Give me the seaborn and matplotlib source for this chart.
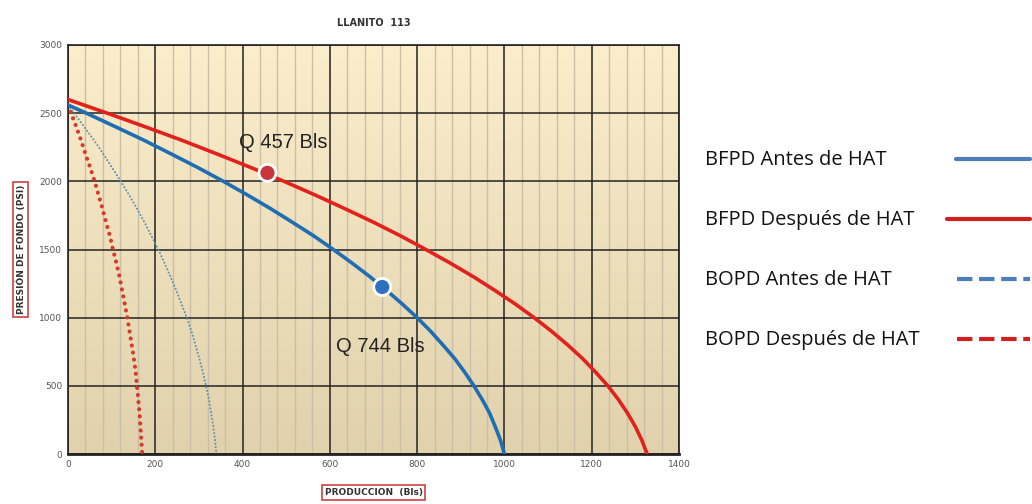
import numpy as np
import matplotlib
matplotlib.use("Agg")
import matplotlib.pyplot as plt
import seaborn as sns
import pandas as pd
from matplotlib.lines import Line2D
from matplotlib.ticker import MultipleLocator

# DATA
presion = [2560, 2500, 2400, 2300, 2200, 2100, 2000, 1900, 1800, 1700, 1600, 1500, 1400,
           1300, 1200, 1100, 1000, 900, 800, 700, 600, 500, 400, 300, 200, 100, 0]
bfpd_antes = [0, 42, 109, 175, 237, 298, 356, 411, 464, 514, 563, 608, 651,
              692, 730, 766, 800, 831, 859, 886, 909, 930, 949, 966, 979, 991, 1000]
bopd_antes = [0, 14, 37, 60, 81, 101, 121, 140, 158, 175, 191, 207, 221,
              235, 248, 260, 272, 283, 292, 301, 309, 316, 323, 328, 333, 337, 340]
bopd_despues = [0, 7, 19, 30, 40, 51, 61, 70, 79, 87, 96, 103, 111,
                118, 124, 130, 136, 141, 146, 151, 155, 158, 161, 164, 166, 168, 170]

presion_d = [2600, 2500, 2400, 2300, 2200, 2100, 2000, 1900, 1800, 1700, 1600, 1500, 1400,
             1300, 1200, 1100, 1000, 900, 800, 700, 600, 500, 400, 300, 200, 100, 0]
bfpd_despues = [0, 90, 177, 262, 342, 420, 495, 566, 634, 700, 762, 820, 876,
                929, 978, 1025, 1068, 1108, 1145, 1179, 1209, 1237, 1261, 1282, 1300, 1315, 1327]

puntos_q = [457, 720]
puntos_p = [2062, 1225]
puntos_txt = ["Q 457 Bls", "Q 744 Bls"]

labels = ["BFPD Antes de HAT", "BFPD Después de HAT",
          "BOPD Antes de HAT", "BOPD Después de HAT"]

BLUE = "#1f6db2"
RED = "#e3211c"

sns.set_style("white")
plt.rcParams['font.family'] = ['DejaVu Sans']

fig = plt.figure(figsize=(10.32, 5.04), dpi=100)
ax = fig.add_axes([68 / 1032, 1 - 454 / 504, 611 / 1032, 409 / 504])

# background gradient
grad = np.linspace(0, 1, 256).reshape(-1, 1)
cmap = matplotlib.colors.LinearSegmentedColormap.from_list("bg", ["#fcedcb", "#e1d2ad"])
ax.imshow(grad, aspect="auto", cmap=cmap, extent=[0, 1, 0, 1],
          transform=ax.transAxes, zorder=0)

df_a = pd.DataFrame({"q": bfpd_antes, "p": presion})
df_d = pd.DataFrame({"q": bfpd_despues, "p": presion_d})
df_oa = pd.DataFrame({"q": bopd_antes, "p": presion})
df_od = pd.DataFrame({"q": bopd_despues, "p": presion})

sns.lineplot(data=df_a, x="q", y="p", sort=False, color=BLUE, lw=2.6, ax=ax, zorder=4)
sns.lineplot(data=df_d, x="q", y="p", sort=False, color=RED, lw=2.6, ax=ax, zorder=4)
sns.lineplot(data=df_oa, x="q", y="p", sort=False, color="#5a8fb0", lw=1.5,
             linestyle=(0, (0.01, 1.7)), dash_capstyle="round", ax=ax, zorder=3)
sns.lineplot(data=df_od, x="q", y="p", sort=False, color="#d63a2a", lw=3.0,
             linestyle=(0, (0.01, 1.7)), dash_capstyle="round", ax=ax, zorder=3)

sns.scatterplot(x=puntos_q, y=puntos_p, hue=["r", "b"], palette={"r": "#c8353a", "b": "#2f6fc0"},
                s=150, edgecolor="white", linewidth=2, legend=False, ax=ax, zorder=6)

ax.text(puntos_q[0] + 36, puntos_p[0] + 220, puntos_txt[0], fontsize=14.5,
        family="Liberation Sans", ha="center", va="center", color="#222222", zorder=7)
ax.text(puntos_q[1] - 5, puntos_p[1] - 440, puntos_txt[1], fontsize=14.5,
        family="Liberation Sans", ha="center", va="center", color="#222222", zorder=7)

ax.set_xlim(0, 1400)
ax.set_ylim(0, 3000)
ax.xaxis.set_major_locator(MultipleLocator(200))
ax.xaxis.set_minor_locator(MultipleLocator(40))
ax.yaxis.set_major_locator(MultipleLocator(500))
ax.grid(which="major", axis="both", color="#222222", lw=1.1, zorder=1)
ax.grid(which="minor", axis="x", color="#c9bfa8", lw=1.0, zorder=1)
ax.set_axisbelow(True)
for s in ax.spines.values():
    s.set_color("#222222")
    s.set_linewidth(1.2)
ax.spines["bottom"].set_linewidth(2)
ax.tick_params(axis="both", which="major", labelsize=6.5, labelcolor="#555555",
               length=0, pad=4)
ax.tick_params(axis="x", which="minor", direction="in", length=3, color="#222222")
ax.tick_params(axis="x", which="major", direction="in", length=3, color="#222222")

box = dict(boxstyle="square,pad=0.3", fc="white", ec="#d04040", lw=1.2)
ax.set_xlabel("PRODUCCION  (Bls)", fontsize=6.5, fontweight="bold", color="#333333",
              bbox=box, labelpad=14)
ax.set_ylabel("PRESIÓN DE FONDO (PSI)", fontsize=6.5, fontweight="bold", color="#333333",
              bbox=box, labelpad=10)
ax.set_title("LLANITO  113", fontsize=7, fontweight="bold", color="#333333", pad=14)

# legend (text left, line sample right)
handles = [
    Line2D([0], [0], color="#4a7fbc", lw=3),
    Line2D([0], [0], color="#d21f1f", lw=3),
    Line2D([0], [0], color="#4a7fbc", lw=3, linestyle=(0, (3, 2.2))),
    Line2D([0], [0], color="#d21f1f", lw=3, linestyle=(0, (3, 2.2))),
]
ys = [160, 220, 280, 340]
line_x0 = [956, 947, 957, 957]
for lab, h, yy, x0 in zip(labels, handles, ys, line_x0):
    fig.text(705 / 1032, 1 - yy / 504, lab, fontsize=14.5, family="Open Sans",
             ha="left", va="center", color="#111111")
    ln = Line2D([x0 / 1032, 1030 / 1032], [1 - (yy - 1) / 504] * 2,
                transform=fig.transFigure, color=h.get_color(), lw=h.get_linewidth(),
                linestyle=h.get_linestyle())
    fig.add_artist(ln)

fig.savefig("out.png", dpi=100, facecolor="white")
